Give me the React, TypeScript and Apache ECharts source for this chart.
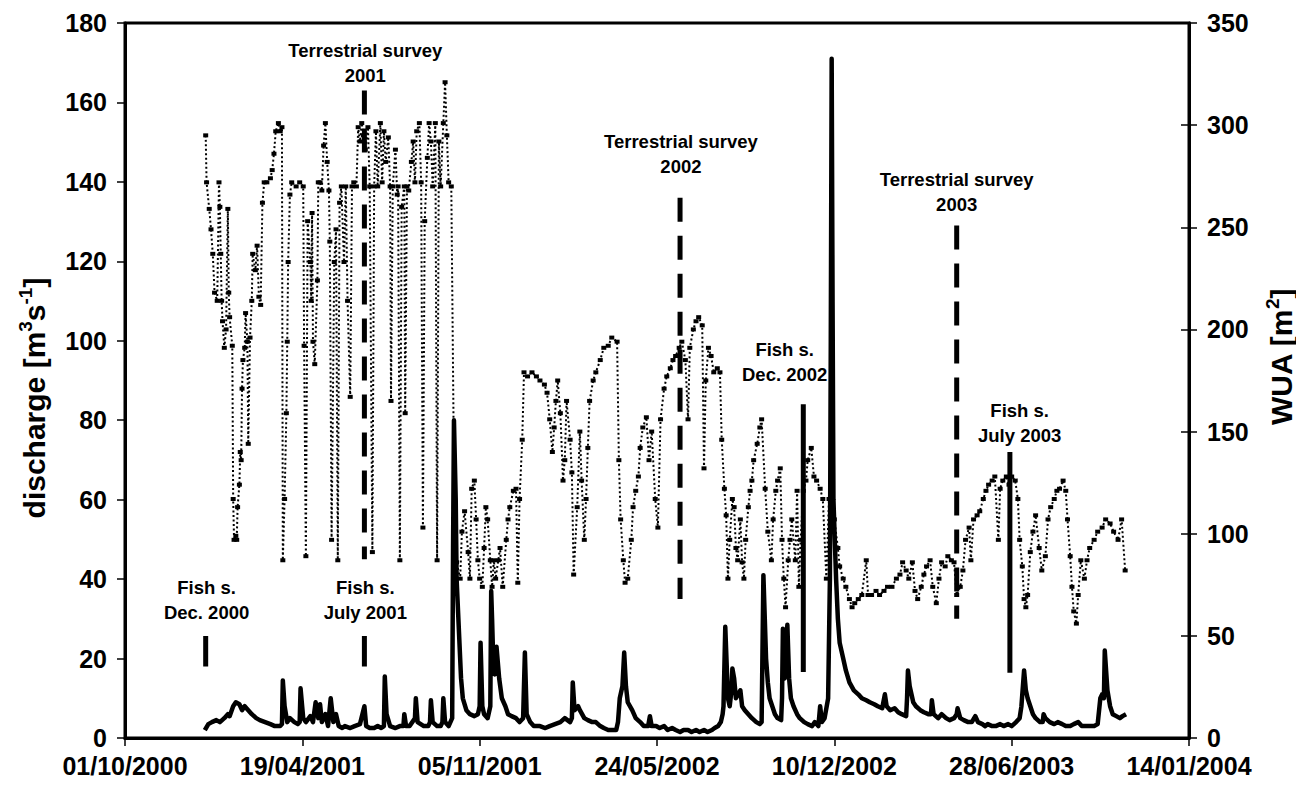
import React, { useEffect, useRef } from "react";
import * as echarts from "echarts";

// x values are days since 01/10/2000
const xTickLabels = ["01/10/2000", "19/04/2001", "05/11/2001", "24/05/2002", "10/12/2002", "28/06/2003", "14/01/2004"];

// discharge [m3 s-1] : [day, value]
const discharge: [number, number][] = [
  [90,2],[94,3.5],[98,4],[103,4.5],[107,4],[112,5],[116,6],[118,5.5],[122,8],[125,9],[129,8.5],[132,7],[135,8],[139,7],[143,6],[148,5],[152,4.5],[158,4],[164,3.5],[169,3],[175,3],[177,3.5],[178,14.5],[180,8],[183,4],[186,5],[191,4],[195,3.5],[197,4],[198,12.5],[201,5],[204,4],[209,5.5],[212,4],[215,9],[218,5],[220,8.5],[222,4],[226,6],[229,3],[232,10],[235,4],[238,6],[241,3],[245,2.5],[248,3],[254,2.5],[259,3],[265,3.5],[270,8],[272,3],[276,2.5],[281,2.5],[285,3],[289,2.5],[292,3],[293,15.5],[295,6],[299,3],[305,2.5],[310,3],[314,3],[315,6],[317,3],[321,3],[327,5],[328,10],[330,4],[337,3],[342,3],[344,4],[345,9.5],[347,4],[352,3],[356,3],[358,4],[359,10],[361,4],[365,3],[369,5],[370,48],[371,80],[373,60],[374,40],[377,25],[379,15],[381,10],[385,7],[389,6],[394,5.5],[398,6],[400,8],[401,24],[403,8],[405,6],[409,5],[412,8],[413,37],[414,30],[415,22],[417,16],[419,23],[422,15],[425,10],[429,8],[432,6],[436,5.5],[441,5],[445,4],[449,5],[451,21.5],[453,6],[457,4],[461,3],[468,3],[474,2.5],[479,3],[485,3.5],[491,4],[496,5],[502,4],[504,5],[505,14],[507,7],[511,8],[513,7],[518,5],[522,4.5],[527,4],[531,4],[536,3],[540,2.5],[545,2],[549,2],[554,2],[556,4],[558,10],[561,13],[563,21.5],[565,13],[567,9],[572,7],[576,5],[581,4],[585,3],[590,3],[592,5.5],[594,3],[599,3],[603,2.5],[608,3],[612,2],[617,2.5],[621,2],[626,1.5],[630,2],[635,2],[639,1.5],[644,2],[648,1.5],[653,2],[657,1.5],[662,2],[665,2.5],[669,3],[672,4],[674,6],[675,8],[677,28],[680,10],[682,8],[684,12],[685,17.5],[687,15],[689,10],[694,12],[696,8],[699,7],[703,6],[707,5],[712,4],[716,3.5],[718,4],[720,41],[723,20],[725,14],[727,10],[730,8],[733,6],[736,5],[740,4.5],[741,10],[742,27.5],[744,15],[747,28.5],[749,15],[751,10],[754,8],[758,6],[761,5],[766,4],[770,3.5],[775,3],[778,4],[782,3],[784,8],[786,4],[789,5],[793,10],[795,40],[796,100],[797,171],[798,110],[799,60],[802,40],[804,30],[806,24],[810,20],[813,17],[817,14],[822,12],[827,11],[831,10],[836,9.5],[840,9],[845,8.5],[849,8],[854,7.5],[857,11],[859,8],[863,7],[868,7.5],[872,6.5],[876,6],[881,5.5],[882,10],[883,17],[885,13],[889,9],[892,8],[897,7],[901,6.5],[906,6],[909,6],[910,9.5],[912,6],[917,5],[921,6],[926,5],[930,4.5],[935,5],[938,6],[939,7.5],[942,5],[946,4.5],[951,4],[955,4],[959,5.5],[962,4],[967,3.5],[970,3],[973,3.5],[978,3],[982,3],[987,3.5],[991,3],[996,3.5],[1000,3],[1005,4],[1009,5],[1011,8],[1014,17],[1016,12],[1018,10],[1021,8],[1024,6],[1027,5],[1032,4],[1035,4],[1036,6],[1038,5],[1043,4],[1048,3.5],[1052,4],[1057,3.5],[1061,3],[1066,3],[1070,3.5],[1075,4],[1079,3],[1084,3],[1088,3],[1093,3],[1097,3.5],[1100,10],[1102,11],[1104,10],[1105,22],[1108,12],[1111,8],[1114,6],[1118,5.5],[1122,5],[1125,5.5],[1129,6]
];

// WUA [m2] : [day, value]
const wua: [number, number][] = [
  [91,295],[92,272],[95,259],[97,249],[99,237],[101,218],[104,214],[106,272],[107,260],[108,237],[109,214],[110,204],[112,191],[114,200],[116,259],[117,218],[118,206],[121,192],[122,117],[123,97],[125,99],[126,97],[127,113],[129,124],[130,140],[131,136],[132,171],[133,185],[135,191],[136,208],[138,194],[139,144],[141,196],[143,214],[144,237],[147,229],[149,241],[151,216],[153,212],[155,262],[157,272],[160,272],[164,274],[166,278],[168,286],[170,297],[173,301],[175,297],[177,299],[178,87],[180,117],[182,159],[183,194],[184,233],[186,266],[188,272],[193,270],[197,272],[201,270],[202,192],[204,89],[206,253],[209,233],[210,214],[211,257],[212,194],[214,183],[217,224],[218,272],[220,272],[222,268],[224,290],[226,301],[228,282],[230,268],[231,243],[233,97],[236,233],[238,249],[240,87],[242,262],[244,270],[247,233],[249,270],[251,214],[254,167],[256,270],[258,272],[261,270],[263,299],[265,292],[267,301],[269,295],[271,288],[274,299],[276,270],[279,91],[281,270],[283,297],[285,270],[288,301],[290,272],[292,297],[294,282],[297,294],[299,270],[300,165],[302,270],[305,288],[307,266],[308,270],[310,87],[312,260],[315,270],[316,159],[318,270],[320,268],[323,282],[325,292],[327,272],[329,297],[332,301],[334,272],[336,103],[338,253],[341,284],[343,301],[345,292],[347,270],[350,301],[352,87],[354,292],[356,270],[359,301],[361,321],[363,295],[365,272],[368,270],[372,87],[374,86],[378,78],[380,101],[383,111],[387,91],[389,78],[391,122],[394,126],[396,107],[398,87],[400,78],[403,74],[405,93],[407,113],[409,107],[412,87],[414,74],[416,87],[418,78],[421,87],[423,93],[426,74],[430,97],[432,107],[434,113],[438,121],[441,122],[443,76],[445,117],[448,146],[450,179],[454,177],[459,179],[464,177],[468,175],[473,173],[476,169],[479,156],[482,140],[484,152],[486,165],[488,175],[491,159],[494,126],[496,136],[498,165],[502,146],[504,130],[506,80],[510,113],[513,150],[515,126],[518,97],[520,117],[522,142],[524,165],[528,175],[531,179],[536,185],[540,191],[545,192],[549,196],[555,194],[557,136],[559,107],[562,87],[564,76],[567,78],[571,97],[573,113],[576,121],[579,128],[581,142],[584,152],[588,157],[591,136],[594,150],[598,117],[601,103],[604,156],[608,171],[611,177],[615,181],[618,185],[621,187],[625,191],[628,194],[632,185],[635,156],[637,191],[641,200],[644,204],[647,206],[651,202],[653,132],[655,175],[658,191],[661,187],[664,179],[668,181],[671,179],[673,146],[676,122],[678,109],[680,78],[682,97],[685,117],[687,113],[689,93],[691,87],[694,107],[696,86],[698,78],[700,97],[703,113],[705,121],[707,126],[709,136],[713,144],[716,152],[718,156],[722,122],[725,101],[729,87],[731,107],[734,121],[736,126],[739,132],[741,97],[743,78],[745,64],[748,87],[750,97],[752,107],[756,87],[758,121],[760,74],[762,97],[765,121],[768,126],[770,136],[774,142],[777,128],[780,126],[784,122],[787,117],[791,78],[794,117],[797,121],[800,107],[804,93],[806,84],[810,78],[813,74],[817,68],[820,64],[823,66],[827,68],[831,70],[836,87],[838,70],[842,70],[847,72],[851,70],[856,72],[860,74],[865,74],[870,78],[874,80],[877,86],[881,82],[884,78],[888,86],[891,72],[894,68],[898,74],[901,80],[904,84],[908,87],[911,74],[915,66],[918,78],[921,86],[925,84],[928,89],[932,87],[935,86],[938,70],[942,74],[945,82],[948,97],[952,103],[954,87],[957,107],[961,109],[964,111],[968,117],[971,121],[974,124],[978,126],[981,128],[985,97],[987,122],[990,126],[994,128],[997,124],[1000,128],[1004,126],[1007,117],[1009,97],[1012,84],[1014,68],[1016,64],[1018,70],[1021,91],[1024,101],[1027,109],[1031,93],[1034,82],[1038,89],[1041,107],[1044,113],[1048,117],[1051,121],[1054,122],[1058,126],[1061,121],[1063,107],[1066,89],[1068,74],[1070,62],[1073,56],[1075,70],[1078,87],[1082,78],[1085,87],[1088,93],[1093,97],[1097,101],[1102,103],[1106,107],[1111,105],[1115,101],[1120,97],[1124,107],[1128,82]
];

// survey markers (left-axis units)
const fishDays = [91, 270, 765, 998];
const fishLow = [18, 18, 16.6, 16.4];
const fishHigh = [25.7, 25.7, 84, 72];
const fishLabels = ["Fish s.\nDec. 2000", "Fish s.\nJuly 2001", "Fish s.\nDec. 2002", "Fish s.\nJuly 2003"];
const fishLabelDays = [92, 271, 744, 1009];
const fishLabelY = [34.7, 34.7, 94.7, 79.3];

const terrDays = [270, 626, 938];
const terrLow = [45, 35, 30];
const terrHigh = [163, 136, 129];
const terrLabels = ["Terrestrial survey\n2001", "Terrestrial survey\n2002", "Terrestrial survey\n2003"];
const terrLabelDays = [271, 627, 938];
const terrLabelY = [170, 147, 137.5];

export default function App() {
  const ref = useRef<HTMLDivElement>(null);
  useEffect(() => {
    document.body.style.margin = "0";
    const chart = echarts.init(ref.current!, null, { renderer: "svg" });
    const font = "'Liberation Sans', Arial, Helvetica, sans-serif";
    const tickText = { color: "#000", fontSize: 25, fontWeight: "bold" as const, fontFamily: font };

    const series: any[] = [
      {
        name: "WUA", type: "line", yAxisIndex: 1, data: wua,
        symbol: "rect", symbolSize: [5, 4], itemStyle: { color: "#000" },
        lineStyle: { color: "#000", width: 2, type: [2, 2.5] }, z: 2, silent: true,
      },
      {
        name: "discharge", type: "line", yAxisIndex: 0, data: discharge,
        symbol: "none", lineStyle: { color: "#000", width: 4.5, join: "round" }, z: 3, silent: true,
      },
    ];
    fishDays.forEach((d, i) => {
      series.push({
        type: "line", yAxisIndex: 0, data: [[d, fishLow[i]], [d, fishHigh[i]]],
        symbol: "none", lineStyle: { color: "#000", width: 5, cap: "butt" }, z: 4, silent: true,
      });
    });
    terrDays.forEach((d, i) => {
      series.push({
        type: "line", yAxisIndex: 0, data: [[d, terrHigh[i]], [d, terrLow[i]]],
        symbol: "none", lineStyle: { color: "#000", width: 5, type: [24, 14], cap: "butt" }, z: 4, silent: true,
      });
    });
    const labelTexts = [...fishLabels, ...terrLabels];
    const labelData = [
      ...fishLabels.map((_, i) => [fishLabelDays[i], fishLabelY[i]]),
      ...terrLabels.map((_, i) => [terrLabelDays[i], terrLabelY[i]]),
    ];
    series.push({
      type: "custom", yAxisIndex: 0, data: labelData, silent: true, z: 5,
      renderItem: (params: any, api: any) => {
        const p = api.coord([api.value(0), api.value(1)]);
        return {
          type: "text", x: p[0], y: p[1],
          style: {
            text: labelTexts[params.dataIndex], fill: "#000",
            fontSize: 18.5, fontWeight: "bold", fontFamily: font, lineHeight: 25,
            align: "center", verticalAlign: "middle",
          },
        };
      },
    });

    const rich = {
      t: { fontSize: 30, fontWeight: "bold", fontFamily: font, color: "#000", lineHeight: 36 },
      sup: { fontSize: 19, fontWeight: "bold", fontFamily: font, color: "#000", lineHeight: 36, verticalAlign: "top" },
    };

    chart.setOption({
      animation: false,
      backgroundColor: "#fff",
      grid: { left: 125, right: 107, top: 23, bottom: 49, show: true, borderColor: "#000", borderWidth: 3 },
      xAxis: {
        type: "value", min: 0, max: 1200, interval: 200,
        axisLine: { show: true, lineStyle: { color: "#000", width: 3 } },
        axisTick: { show: true, length: 8, lineStyle: { color: "#000", width: 1.5 } },
        axisLabel: { ...tickText, margin: 15, lineHeight: 25, formatter: (v: number) => xTickLabels[Math.round(v / 200)] ?? "" },
        splitLine: { show: false },
      },
      yAxis: [
        {
          type: "value", min: 0, max: 180, interval: 20, position: "left",
          axisLine: { show: true, lineStyle: { color: "#000", width: 3 } },
          axisTick: { show: true, length: 8, lineStyle: { color: "#000", width: 1.5 } },
          axisLabel: { ...tickText, margin: 18, lineHeight: 21 },
          splitLine: { show: false },
        },
        {
          type: "value", min: 0, max: 350, interval: 50, position: "right",
          axisLine: { show: true, lineStyle: { color: "#000", width: 3 } },
          axisTick: { show: true, length: 8, lineStyle: { color: "#000", width: 1.5 } },
          axisLabel: { ...tickText, margin: 18, lineHeight: 21 },
          splitLine: { show: false },
        },
        {
          type: "value", min: 0, max: 350, interval: 50, position: "right",
          axisLine: { show: false },
          axisTick: { show: true, inside: true, length: 8, lineStyle: { color: "#000", width: 1.5 } },
          axisLabel: { show: false },
          splitLine: { show: false },
        },
      ],
      graphic: [
        {
          type: "text", x: 34, y: 398, rotation: Math.PI / 2, silent: true,
          style: { text: "{t|discharge [m}{sup|3}{t|s}{sup|-1}{t|]}", rich, align: "center", verticalAlign: "middle" },
        },
        {
          type: "text", x: 1281, y: 357, rotation: Math.PI / 2, silent: true,
          style: { text: "{t|WUA [m}{sup|2}{t|]}", rich, align: "center", verticalAlign: "middle" },
        },
      ],
      series,
    });
    return () => chart.dispose();
  }, []);
  return <div ref={ref} style={{ width: 1296, height: 787 }} />;
}
